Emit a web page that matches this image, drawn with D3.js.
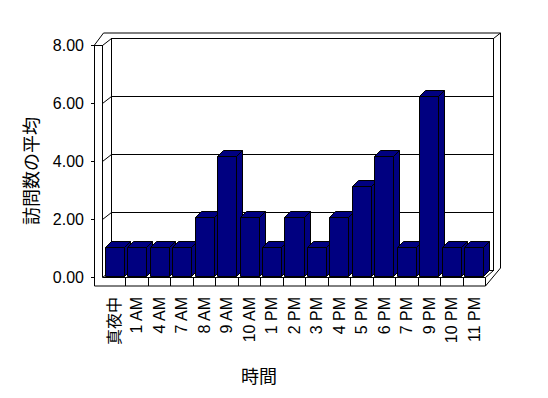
<!DOCTYPE html>
<html>
<head>
<meta charset="utf-8">
<script src="https://cdn.jsdelivr.net/npm/d3@7"></script>
<style>
  body { margin: 0; background: #fff; }
  text { font-family: "Liberation Sans", Arial, sans-serif; fill: #000; }
  .jp { font-family: "Noto Sans CJK JP", sans-serif; }
</style>
</head>
<body>
<div id="my_dataviz"></div>
<script>
var width = 548;
var height = 398;

// data
var categories = ["真夜中", "1 AM", "4 AM", "7 AM", "8 AM", "9 AM", "10 AM", "1 PM", "2 PM",
  "3 PM", "4 PM", "5 PM", "6 PM", "7 PM", "9 PM", "10 PM", "11 PM"];
var visits = [1, 1, 1, 1, 2, 4, 2, 1, 2, 1, 2, 3, 4, 1, 6, 1, 1];
var tickValues = [0, 2, 4, 6, 8];
var yTitle = "訪問数の平均";
var xTitle = "時間";

var svg = d3.select("#my_dataviz")
  .append("svg")
  .attr("width", width)
  .attr("height", height);

// front plane of the 3d box
var frontLeft = 103, frontRight = 485;
var depthX = 8, depthY = -7;      // floor/wall depth
var wall = 8;                     // left wall thickness
var barDX = 6, barDY = -6;        // bar depth
var navy = "#000080";

var y = d3.scaleLinear().domain([0, 8]).range([277, 45]);
// bars sit further in the box, perspective makes them a bit taller
var yBar = d3.scaleLinear().domain([0, 8]).range([277, 277 - 8 * 30.2]);

var xCat = d3.scaleBand().domain(categories).range([frontLeft, frontRight]).padding(0);
var x = d3.scaleBand().domain(categories).range([frontLeft, frontRight])
  .paddingInner(0.154).paddingOuter(0.077);

function pts(a) { return a.map(p => p.join(",")).join(" "); }

var box = svg.append("g").attr("fill", "none").attr("stroke", "#000").attr("stroke-width", 1);

// outer silhouette
box.append("polygon")
  .attr("fill", "#fff")
  .attr("points", pts([
    [frontLeft - wall - 0.5, y(8)], [frontLeft + 0.5, y(8) - 12], [frontRight + depthX + 7.5, y(8) - 12],
    [frontRight + depthX + 7.5, y(0) - 9], [frontRight + 0.5, y(0) + 9], [frontLeft - wall - 0.5, y(0) + 9]
  ]));

// back wall face
box.append("rect")
  .attr("x", frontLeft + depthX + 0.5)
  .attr("y", y(8) + depthY + 0.5)
  .attr("width", frontRight - frontLeft)
  .attr("height", y(0) - y(8));
box.append("line")
  .attr("x1", frontRight + depthX + 0.5).attr("y1", y(8) + depthY + 0.5)
  .attr("x2", frontRight + depthX + 7.5).attr("y2", y(8) - 12);

// left wall
box.append("line")
  .attr("x1", frontLeft - 0.5).attr("y1", y(8))
  .attr("x2", frontLeft - 0.5).attr("y2", y(0));
box.append("line")
  .attr("x1", frontLeft - wall - 0.5).attr("y1", y(8) + 0.5)
  .attr("x2", frontLeft - 0.5).attr("y2", y(8) + 0.5);
box.append("line")
  .attr("x1", frontLeft - 0.5).attr("y1", y(8) + 0.5)
  .attr("x2", frontLeft + depthX + 0.5).attr("y2", y(8) + depthY + 0.5);

// gridlines on back wall and left wall
var grid = box.selectAll(".grid")
  .data(tickValues.filter(v => v > 0 && v < 8))
  .join("g");
grid.append("line")
  .attr("x1", frontLeft + depthX).attr("x2", frontRight + depthX)
  .attr("y1", d => Math.round(y(d) + depthY) + 0.5)
  .attr("y2", d => Math.round(y(d) + depthY) + 0.5);
grid.append("line")
  .attr("x1", frontLeft - 0.5).attr("x2", frontLeft + depthX + 0.5)
  .attr("y1", d => Math.round(y(d)) + 0.5)
  .attr("y2", d => Math.round(y(d) + depthY) + 0.5);

// floor
box.append("line")
  .attr("x1", frontLeft - 0.5).attr("y1", y(0) + 0.5)
  .attr("x2", frontRight + 0.5).attr("y2", y(0) + 0.5);
box.append("line")
  .attr("x1", frontLeft - 0.5).attr("y1", y(0) + 0.5)
  .attr("x2", frontLeft + depthX + 0.5).attr("y2", y(0) + depthY + 0.5);
box.append("line")
  .attr("x1", frontRight + 0.5).attr("y1", y(0) + 0.5)
  .attr("x2", frontRight + depthX + 0.5).attr("y2", y(0) + depthY + 0.5);
box.append("line")
  .attr("x1", frontRight + 0.5).attr("y1", y(0) + 0.5)
  .attr("x2", frontRight + 0.5).attr("y2", y(0) + 9);

// category dividers on floor front
box.selectAll(".div")
  .data(categories.slice(1))
  .join("line")
  .attr("x1", d => Math.round(xCat(d)) + 0.5)
  .attr("x2", d => Math.round(xCat(d)) + 0.5)
  .attr("y1", y(0))
  .attr("y2", y(0) + 9);

// value ticks
box.selectAll(".tick")
  .data(tickValues)
  .join("line")
  .attr("x1", frontLeft - wall - 4)
  .attr("x2", frontLeft - wall)
  .attr("y1", d => Math.round(y(d)) + 0.5)
  .attr("y2", d => Math.round(y(d)) + 0.5);

// bars, left to right so each front hides the previous side
var bars = svg.selectAll(".bar")
  .data(categories.map((c, i) => ({ name: c, value: visits[i] })))
  .join("g")
  .attr("fill", navy)
  .attr("stroke", "#000")
  .attr("stroke-linejoin", "round");

bars.append("polygon")
  .attr("points", function(d) {
    var r = Math.round(x(d.name) + x.bandwidth()) + 0.5;
    var t = Math.round(yBar(d.value)) + 0.5, b = yBar(0) - 0.5;
    return pts([[r, b], [r + barDX, b + barDY], [r + barDX, t + barDY], [r, t]]);
  });
bars.append("polygon")
  .attr("points", function(d) {
    var l = Math.round(x(d.name)) + 0.5, r = Math.round(x(d.name) + x.bandwidth()) + 0.5;
    var t = Math.round(yBar(d.value)) + 0.5;
    return pts([[l, t], [r, t], [r + barDX, t + barDY], [l + barDX, t + barDY]]);
  });
bars.append("rect")
  .attr("x", d => Math.round(x(d.name)) + 0.5)
  .attr("y", d => Math.round(yBar(d.value)) + 0.5)
  .attr("width", d => Math.round(x(d.name) + x.bandwidth()) - Math.round(x(d.name)))
  .attr("height", d => yBar(0) - 1 - Math.round(yBar(d.value)));

// value labels
svg.selectAll(".ylab")
  .data(tickValues)
  .join("text")
  .attr("x", 84)
  .attr("y", d => y(d))
  .attr("dy", "0.36em")
  .attr("text-anchor", "end")
  .attr("font-size", 16)
  .text(d => d3.format(".2f")(d));

// category labels, rotated
svg.selectAll(".xlab")
  .data(categories)
  .join("text")
  .attr("class", d => /[^\x00-\x7f]/.test(d) ? "jp" : null)
  .attr("text-anchor", "end")
  .attr("font-size", 16)
  .attr("transform", d => `translate(${xCat(d) + xCat.bandwidth() / 2}, 297) rotate(-90)`)
  .attr("dy", "0.36em")
  .text(d => d);

svg.append("text")
  .attr("class", "jp")
  .attr("text-anchor", "middle")
  .attr("font-size", 18)
  .attr("transform", "translate(32, 171) rotate(-90)")
  .attr("dy", "0.36em")
  .text(yTitle);

svg.append("text")
  .attr("class", "jp")
  .attr("text-anchor", "middle")
  .attr("font-size", 18)
  .attr("x", 259)
  .attr("y", 377)
  .attr("dy", "0.36em")
  .text(xTitle);
</script>
</body>
</html>
